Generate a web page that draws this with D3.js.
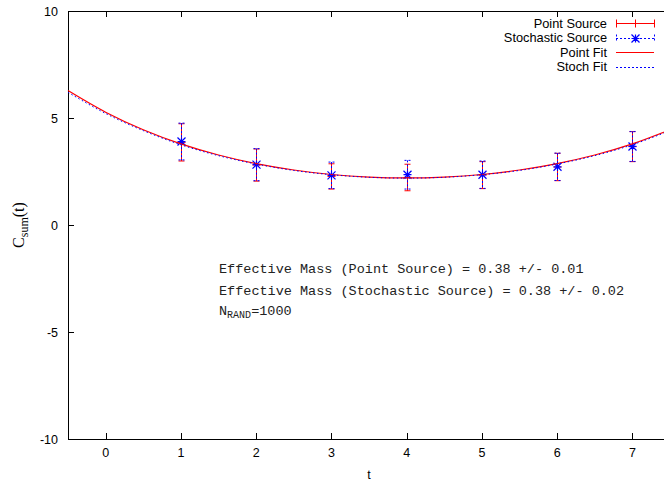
<!DOCTYPE html>
<html>
<head>
<meta charset="utf-8">
<script src="https://cdn.jsdelivr.net/npm/d3@7/dist/d3.min.js"></script>
<style>
  html, body { margin: 0; padding: 0; background: #fff; }
  svg { display: block; }
</style>
</head>
<body>
<svg id="chart" width="664" height="481"></svg>
<script>
// ---- data ----
const tValues = [1, 2, 3, 4, 5, 6, 7];
const pointValues = [3.86, 2.80, 2.27, 2.22, 2.33, 2.71, 3.66];
const pointErrors = [0.87, 0.75, 0.59, 0.62, 0.63, 0.64, 0.70];
const stochValues = [3.90, 2.82, 2.32, 2.35, 2.35, 2.72, 3.67];
const stochErrors = [0.86, 0.75, 0.62, 0.67, 0.64, 0.64, 0.70];
// fit curves, values read at half steps
const fitT = [-0.5, 0, 0.5, 1, 1.5, 2, 2.5, 3, 3.5, 4, 4.5, 5, 5.5, 6, 6.5, 7, 7.5];
const pointFit = [6.28, 5.27, 4.45, 3.79, 3.27, 2.87, 2.57, 2.36, 2.24, 2.20, 2.24, 2.36, 2.57, 2.87, 3.27, 3.79, 4.45];
const stochFit = [6.20, 5.21, 4.41, 3.75, 3.24, 2.85, 2.55, 2.35, 2.23, 2.19, 2.23, 2.35, 2.55, 2.85, 3.24, 3.75, 4.41];
const xTicks = [0, 1, 2, 3, 4, 5, 6, 7];
const yTicks = [-10, -5, 0, 5, 10];
const legendLabels = ["Point Source", "Stochastic Source", "Point Fit", "Stoch Fit"];
const annotations = [
  "Effective Mass (Point Source) = 0.38 +/- 0.01",
  "Effective Mass (Stochastic Source) = 0.38 +/- 0.02"
];

// ---- layout ----
const svg = d3.select("#chart");
const L = 68, T = 11, B = 439, R = 670;
const x = d3.scaleLinear().domain([-0.5, 7.5]).range([L, R]);
const y = d3.scaleLinear().domain([-10, 10]).range([B, T]);
const sans = "'Liberation Sans', Arial, Helvetica, sans-serif";
const mono = "'Liberation Mono', 'Courier New', monospace";

// frame
svg.append("rect").attr("x", L + 0.5).attr("y", T + 0.5)
  .attr("width", R - L).attr("height", B - T)
  .attr("fill", "none").attr("stroke", "#000").attr("stroke-width", 1);

// axes
const ax = svg.append("g").attr("font-family", sans).attr("font-size", 12.5);
xTicks.forEach(v => {
  const px = Math.round(x(v)) + 0.5;
  ax.append("line").attr("x1", px).attr("x2", px).attr("y1", B).attr("y2", B - 6).attr("stroke", "#000");
  ax.append("line").attr("x1", px).attr("x2", px).attr("y1", T).attr("y2", T + 6).attr("stroke", "#000");
  ax.append("text").attr("x", x(v)).attr("y", 457).attr("text-anchor", "middle").text(v);
});
yTicks.forEach(v => {
  const py = Math.round(y(v)) + 0.5;
  ax.append("line").attr("x1", L).attr("x2", L + 6).attr("y1", py).attr("y2", py).attr("stroke", "#000");
  ax.append("text").attr("x", 58).attr("y", y(v) + 4.5).attr("text-anchor", "end").text(v);
});
ax.append("text").attr("x", 369).attr("y", 479).attr("text-anchor", "middle").text("t");

// y label
const yl = svg.append("text")
  .attr("transform", "translate(24,225) rotate(-90)")
  .attr("text-anchor", "middle")
  .attr("font-family", "'Liberation Serif', 'Times New Roman', serif")
  .attr("font-size", 16);
yl.append("tspan").text("C");
yl.append("tspan").attr("font-size", 12).attr("dy", 4).text("sum");
yl.append("tspan").attr("dy", -4).text("(t)");

const plot = svg.append("g");
const cap = 3;

function errorBars(vals, errs, color, dash) {
  const g = plot.append("g").attr("stroke", color).attr("stroke-width", 1)
    .attr("stroke-dasharray", dash).attr("fill", "none");
  tValues.forEach((t, i) => {
    const px = Math.round(x(t)) + 0.5;
    const y1 = y(vals[i] + errs[i]), y0 = y(vals[i] - errs[i]);
    g.append("line").attr("x1", px).attr("x2", px).attr("y1", y1).attr("y2", y0);
    g.append("line").attr("x1", px - cap).attr("x2", px + cap).attr("y1", y1).attr("y2", y1);
    g.append("line").attr("x1", px - cap).attr("x2", px + cap).attr("y1", y0).attr("y2", y0);
  });
}
function plus(g, cx, cy, s, color) {
  g.append("path").attr("d", `M${cx - s},${cy}H${cx + s}M${cx},${cy - s}V${cy + s}`)
    .attr("stroke", color).attr("stroke-width", 1).attr("fill", "none");
}
function star(g, cx, cy, s, color) {
  g.append("path").attr("d",
    `M${cx - s},${cy}H${cx + s}M${cx},${cy - s}V${cy + s}M${cx - s},${cy - s}L${cx + s},${cy + s}M${cx - s},${cy + s}L${cx + s},${cy - s}`)
    .attr("stroke", color).attr("stroke-width", 1.2).attr("fill", "none");
}

errorBars(pointValues, pointErrors, "#ff0000", null);
tValues.forEach((t, i) => plus(plot, Math.round(x(t)) + 0.5, y(pointValues[i]), 4, "#ff0000"));
errorBars(stochValues, stochErrors, "#0000ff", "2,2");
tValues.forEach((t, i) => star(plot, Math.round(x(t)) + 0.5, y(stochValues[i]), 4, "#0000ff"));

// fits
const line = (arr) => d3.line().x((d, i) => x(fitT[i])).y(d => y(d)).curve(d3.curveCatmullRom)(arr);
plot.append("path").attr("d", line(pointFit)).attr("fill", "none").attr("stroke", "#ff0000").attr("stroke-width", 1.2);
plot.append("path").attr("d", line(stochFit)).attr("fill", "none").attr("stroke", "#0000ff")
  .attr("stroke-width", 1).attr("stroke-dasharray", "1.5,2.5");

// legend
const lg = svg.append("g").attr("font-family", sans).attr("font-size", 12.8);
const rowsY = [23, 37.5, 52, 66.5];
const sx0 = 616, sx1 = 654;
legendLabels.forEach((lab, i) => {
  lg.append("text").attr("x", 607).attr("y", rowsY[i] + 4.5).attr("text-anchor", "end").text(lab);
});
// Point Source sample
(function () {
  const yy = Math.round(rowsY[0]) + 0.5;
  lg.append("line").attr("x1", sx0).attr("x2", sx1).attr("y1", yy).attr("y2", yy).attr("stroke", "#ff0000");
  [sx0, sx1].forEach(xx => lg.append("line").attr("x1", xx + 0.5).attr("x2", xx + 0.5).attr("y1", yy - 4).attr("y2", yy + 4).attr("stroke", "#ff0000"));
  plus(lg, (sx0 + sx1) / 2 + 0.5, yy, 4, "#ff0000");
})();
(function () {
  const yy = Math.round(rowsY[1]) + 0.5;
  lg.append("line").attr("x1", sx0).attr("x2", sx1).attr("y1", yy).attr("y2", yy).attr("stroke", "#0000ff").attr("stroke-dasharray", "2,2");
  [sx0, sx1].forEach(xx => lg.append("line").attr("x1", xx + 0.5).attr("x2", xx + 0.5).attr("y1", yy - 4).attr("y2", yy + 4).attr("stroke", "#0000ff").attr("stroke-dasharray", "2,2"));
  star(lg, (sx0 + sx1) / 2 + 0.5, yy, 4, "#0000ff");
})();
lg.append("line").attr("x1", sx0).attr("x2", sx1).attr("y1", Math.round(rowsY[2]) + 0.5).attr("y2", Math.round(rowsY[2]) + 0.5).attr("stroke", "#ff0000").attr("stroke-width", 1.2);
lg.append("line").attr("x1", sx0).attr("x2", sx1).attr("y1", Math.round(rowsY[3]) + 0.5).attr("y2", Math.round(rowsY[3]) + 0.5).attr("stroke", "#0000ff").attr("stroke-dasharray", "2,2");

// annotations
const an = svg.append("g").attr("font-family", mono).attr("font-size", 13.5).attr("fill", "#222");
annotations.forEach((a, i) => {
  an.append("text").attr("x", 219).attr("y", [273, 295][i]).attr("xml:space", "preserve").text(a);
});
const nr = an.append("text").attr("x", 219).attr("y", 315);
nr.append("tspan").text("N");
nr.append("tspan").attr("font-size", 10).attr("dy", 3).text("RAND");
nr.append("tspan").attr("dy", -3).text("=1000");
</script>
</body>
</html>
